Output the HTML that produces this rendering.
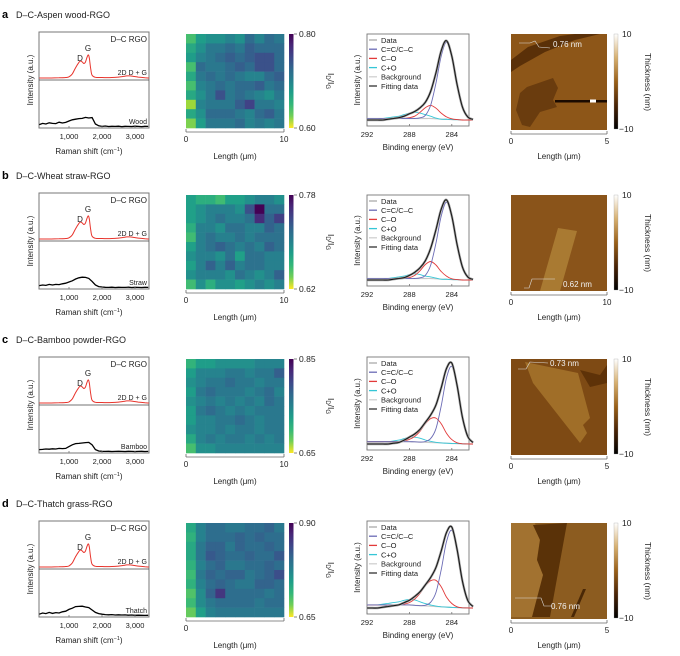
<!DOCTYPE html>
<html><head><meta charset="utf-8">
<style>
html,body{margin:0;padding:0;background:#fff;}
svg{display:block;font-family:"Liberation Sans",sans-serif;}
</style></head>
<body>
<svg id="fig" width="680" height="656" viewBox="0 0 680 656" xmlns="http://www.w3.org/2000/svg">
<defs>
<linearGradient id="vir" x1="0" y1="0" x2="0" y2="1">
<stop offset="0" stop-color="#440154"/><stop offset="0.12" stop-color="#482878"/><stop offset="0.25" stop-color="#3e4989"/><stop offset="0.37" stop-color="#31688e"/><stop offset="0.5" stop-color="#26828e"/><stop offset="0.62" stop-color="#1f9e89"/><stop offset="0.75" stop-color="#35b779"/><stop offset="0.87" stop-color="#6ece58"/><stop offset="1" stop-color="#fde725"/>
</linearGradient>
<linearGradient id="afmc" x1="0" y1="0" x2="0" y2="1">
<stop offset="0" stop-color="#ffffff"/><stop offset="0.25" stop-color="#d7b070"/><stop offset="0.5" stop-color="#9a6018"/><stop offset="0.75" stop-color="#4a2406"/><stop offset="1" stop-color="#000000"/>
</linearGradient>
</defs>
<g id="root"></g>
</svg>
<script>
// ---------- Raman data ----------
const ramanRedShift = [100,400,700,900,1000,1100,1200,1300,1350,1400,1450,1500,1550,1590,1620,1660,1700,1800,2000,2300,2500,2650,2750,2850,2950,3100,3300,3420];
const ramanRedIntensity = [0,0,0.01,0.02,0.05,0.18,0.45,0.68,0.74,0.7,0.63,0.7,0.92,1.0,0.82,0.38,0.12,0.03,0.02,0.02,0.04,0.07,0.09,0.09,0.07,0.04,0.01,0];
const ramanBlackShift = [100,200,300,400,500,600,700,800,900,1000,1100,1200,1300,1400,1500,1600,1700,1800,1900,2000,2100,2200,2300,2400,2500,2600,2700,2800,2900,3000,3100,3200,3300,3400];
const ramanBlackWood = [0.2,0.3,0.25,0.35,0.3,0.28,0.4,0.33,0.38,0.5,0.6,0.65,0.7,0.72,0.8,0.75,0.78,0.25,0.1,0.05,0.08,0.04,0.06,0.05,0.07,0.03,0.06,0.05,0.04,0.07,0.05,0.03,0.06,0.05];
const ramanBlackStraw = [0.2,0.25,0.22,0.3,0.25,0.3,0.28,0.35,0.4,0.5,0.6,0.75,0.85,0.9,0.88,0.8,0.55,0.25,0.12,0.08,0.06,0.05,0.07,0.04,0.06,0.05,0.05,0.07,0.04,0.06,0.05,0.04,0.06,0.05];
const ramanBlackBamboo = [0.2,0.22,0.25,0.23,0.27,0.25,0.3,0.28,0.3,0.45,0.6,0.7,0.72,0.75,0.78,0.8,0.6,0.2,0.08,0.06,0.05,0.06,0.04,0.05,0.06,0.05,0.04,0.06,0.05,0.04,0.05,0.06,0.04,0.05];
const ramanBlackThatch = [0.15,0.25,0.2,0.3,0.22,0.28,0.25,0.35,0.4,0.55,0.65,0.78,0.8,0.82,0.75,0.7,0.5,0.3,0.2,0.15,0.12,0.1,0.12,0.08,0.1,0.08,0.09,0.07,0.08,0.06,0.07,0.06,0.05,0.06];

// ---------- Heatmap data (10 x 10, rows top->bottom) ----------
const heatA = [
[.66,.69,.70,.70,.71,.70,.73,.71,.73,.72],
[.68,.70,.72,.72,.73,.72,.74,.73,.73,.73],
[.69,.71,.72,.73,.74,.73,.74,.75,.75,.73],
[.66,.73,.72,.72,.73,.74,.73,.75,.75,.73],
[.68,.72,.73,.72,.73,.72,.71,.71,.73,.74],
[.66,.71,.72,.73,.72,.73,.73,.74,.72,.73],
[.68,.70,.72,.75,.72,.73,.72,.71,.70,.72],
[.63,.71,.72,.72,.72,.74,.76,.72,.72,.71],
[.68,.70,.73,.73,.73,.72,.71,.73,.74,.72],
[.64,.69,.72,.72,.72,.73,.71,.72,.71,.72]];
const heatB = [
[.69,.68,.68,.67,.69,.69,.70,.71,.71,.70],
[.69,.70,.71,.71,.71,.70,.74,.78,.72,.72],
[.69,.70,.71,.72,.71,.71,.72,.76,.73,.75],
[.68,.71,.71,.70,.72,.72,.71,.71,.73,.72],
[.67,.71,.72,.71,.71,.72,.71,.72,.72,.72],
[.69,.71,.72,.73,.72,.71,.72,.71,.73,.72],
[.70,.71,.71,.70,.72,.69,.72,.72,.71,.71],
[.69,.71,.73,.71,.73,.71,.72,.72,.71,.71],
[.70,.71,.71,.71,.70,.72,.71,.70,.71,.73],
[.67,.70,.68,.70,.70,.69,.70,.71,.70,.71]];
const heatC = [
[.72,.74,.74,.75,.75,.75,.75,.76,.76,.76],
[.74,.76,.76,.76,.77,.77,.76,.77,.77,.79],
[.75,.76,.77,.77,.78,.77,.77,.76,.77,.77],
[.74,.77,.78,.77,.77,.77,.76,.77,.78,.76],
[.75,.76,.77,.76,.77,.76,.77,.76,.78,.77],
[.74,.77,.78,.77,.76,.77,.76,.77,.77,.77],
[.74,.76,.76,.77,.77,.78,.77,.76,.77,.77],
[.75,.76,.76,.77,.76,.77,.77,.76,.77,.77],
[.73,.76,.77,.76,.77,.77,.76,.77,.76,.77],
[.71,.75,.75,.76,.76,.76,.76,.76,.76,.76]];
const heatD = [
[.75,.79,.81,.81,.80,.80,.81,.81,.82,.80],
[.74,.79,.81,.81,.81,.82,.81,.82,.81,.81],
[.75,.80,.82,.82,.80,.82,.81,.81,.82,.81],
[.75,.80,.83,.82,.81,.81,.82,.81,.81,.83],
[.74,.79,.81,.82,.80,.80,.81,.81,.82,.81],
[.73,.80,.82,.81,.82,.82,.80,.81,.82,.84],
[.74,.79,.81,.82,.81,.80,.80,.82,.82,.81],
[.72,.78,.82,.86,.81,.81,.81,.81,.80,.81],
[.73,.78,.80,.81,.81,.81,.81,.80,.81,.81],
[.71,.76,.79,.80,.80,.80,.80,.80,.80,.80]];

// ---------- XPS data (binding energy 292 -> 282) ----------
const xpsEnergy = [292,291.5,291,290.5,290,289.5,289,288.5,288,287.5,287,286.5,286,285.5,285,284.5,284,283.5,283,282.5,282];
const xpsCC_A = [0,0,0,0,0,0,0,0,0,0,0.008,0.04,0.17,0.46,0.82,1,0.82,0.46,0.17,0.04,0.008];
const xpsCO_A = [0,0,0,0,0,0,0,0,0.01,0.03,0.08,0.14,0.17,0.14,0.08,0.03,0.01,0,0,0,0];
const xpsCeqO_A = [0,0,0,0,0.01,0.02,0.03,0.05,0.07,0.08,0.07,0.05,0.03,0.01,0,0,0,0,0,0,0];
const xpsBG_A = [0.02,0.02,0.02,0.02,0.02,0.02,0.02,0.02,0.02,0.02,0.02,0.02,0.02,0.015,0.01,0.01,0.005,0.005,0,0,0];
const xpsCC_B = [0,0,0,0,0,0,0,0,0,0,0.008,0.04,0.17,0.46,0.82,1,0.82,0.46,0.17,0.04,0.008];
const xpsCO_B = [0,0,0,0,0,0,0,0,0.01,0.04,0.1,0.18,0.22,0.18,0.1,0.04,0.01,0,0,0,0];
const xpsCeqO_B = [0,0,0,0,0,0.01,0.02,0.03,0.05,0.06,0.05,0.03,0.02,0.01,0,0,0,0,0,0,0];
const xpsBG_B = [0.02,0.02,0.02,0.02,0.02,0.02,0.02,0.02,0.02,0.02,0.02,0.02,0.02,0.015,0.01,0.01,0.005,0.005,0,0,0];
const xpsCC_C = [0,0,0,0,0,0,0,0,0,0,0,0.01,0.05,0.18,0.48,0.85,1,0.75,0.35,0.1,0.02];
const xpsCO_C = [0,0,0,0,0,0,0,0.01,0.03,0.07,0.14,0.24,0.31,0.32,0.25,0.13,0.05,0.01,0,0,0];
const xpsCeqO_C = [0,0,0,0,0,0.01,0.02,0.04,0.06,0.06,0.05,0.03,0.015,0.005,0,0,0,0,0,0,0];
const xpsBG_C = [0.03,0.03,0.03,0.03,0.03,0.03,0.03,0.03,0.03,0.028,0.025,0.022,0.02,0.017,0.014,0.01,0.007,0.005,0.003,0.001,0];
const xpsCC_D = [0,0,0,0,0,0,0,0,0,0,0,0.01,0.05,0.18,0.48,0.85,1,0.75,0.35,0.1,0.02];
const xpsCO_D = [0,0,0,0,0,0,0,0.01,0.03,0.08,0.16,0.26,0.33,0.34,0.26,0.13,0.05,0.01,0,0,0];
const xpsCeqO_D = [0,0,0,0.01,0.02,0.03,0.04,0.06,0.07,0.07,0.05,0.03,0.015,0.005,0,0,0,0,0,0,0];
const xpsBG_D = [0.04,0.04,0.04,0.04,0.04,0.04,0.04,0.04,0.04,0.035,0.03,0.027,0.024,0.02,0.016,0.012,0.008,0.005,0.003,0.001,0];

const NS = "http://www.w3.org/2000/svg";
const root = document.getElementById('root');
function el(tag, attrs, parent, text){
  const e = document.createElementNS(NS, tag);
  for (const k in attrs) e.setAttribute(k, attrs[k]);
  if (text !== undefined) e.textContent = text;
  (parent || root).appendChild(e);
  return e;
}
function smooth(pts){
  let d = 'M' + pts[0][0].toFixed(1) + ' ' + pts[0][1].toFixed(1);
  for (let i = 0; i < pts.length - 1; i++){
    const p0 = pts[Math.max(0,i-1)], p1 = pts[i], p2 = pts[i+1], p3 = pts[Math.min(pts.length-1,i+2)];
    const c1x = p1[0] + (p2[0]-p0[0])/6, c1y = p1[1] + (p2[1]-p0[1])/6;
    const c2x = p2[0] - (p3[0]-p1[0])/6, c2y = p2[1] - (p3[1]-p1[1])/6;
    d += ' C' + c1x.toFixed(1)+' '+c1y.toFixed(1)+' '+c2x.toFixed(1)+' '+c2y.toFixed(1)+' '+p2[0].toFixed(1)+' '+p2[1].toFixed(1);
  }
  return d;
}
function poly(pts){ return 'M' + pts.map(p => p[0].toFixed(1)+' '+p[1].toFixed(1)).join(' L'); }
const VIR = ['#fde725','#b5de2b','#6ece58','#35b779','#1f9e89','#26828e','#31688e','#3e4989','#482878','#440154'];
function hex(c){ return [parseInt(c.slice(1,3),16),parseInt(c.slice(3,5),16),parseInt(c.slice(5,7),16)]; }
function viridis(t){
  t = Math.max(0, Math.min(1, t));
  const f = t * (VIR.length - 1), i = Math.min(VIR.length - 2, Math.floor(f)), r = f - i;
  const a = hex(VIR[i]), b = hex(VIR[i+1]);
  return 'rgb(' + a.map((v,k) => Math.round(v + (b[k]-v)*r)).join(',') + ')';
}

const rows = [
  {dy:0, letter:'a', title:'D–C-Aspen wood-RGO', src:'Wood', black:ramanBlackWood, heat:heatA, hmin:0.60, hmax:0.80, hlab:['0.80','0.60'], cc:xpsCC_A, co:xpsCO_A, ceqo:xpsCeqO_A, bg:xpsBG_A, afmMax:'5', nm:'0.76 nm', heatAxis10:true},
  {dy:161, letter:'b', title:'D–C-Wheat straw-RGO', src:'Straw', black:ramanBlackStraw, heat:heatB, hmin:0.62, hmax:0.78, hlab:['0.78','0.62'], cc:xpsCC_B, co:xpsCO_B, ceqo:xpsCeqO_B, bg:xpsBG_B, afmMax:'10', nm:'0.62 nm', heatAxis10:true},
  {dy:325, letter:'c', title:'D–C-Bamboo powder-RGO', src:'Bamboo', black:ramanBlackBamboo, heat:heatC, hmin:0.65, hmax:0.85, hlab:['0.85','0.65'], cc:xpsCC_C, co:xpsCO_C, ceqo:xpsCeqO_C, bg:xpsBG_C, afmMax:'5', nm:'0.73 nm', heatAxis10:true},
  {dy:489, letter:'d', title:'D–C-Thatch grass-RGO', src:'Thatch', black:ramanBlackThatch, heat:heatD, hmin:0.65, hmax:0.90, hlab:['0.90','0.65'], cc:xpsCC_D, co:xpsCO_D, ceqo:xpsCeqO_D, bg:xpsBG_D, afmMax:'5', nm:'0.76 nm', heatAxis10:false}
];

rows.forEach((R, ri) => {
  const dy = R.dy;
  const g = el('g', {});
  
  
  const t1 = el('text', {x:2, y:18+dy, 'font-size':11, 'font-weight':'bold', fill:'#000'}, g, R.letter);
  
  
  const t2 = el('text', {x:16, y:18+dy, 'font-size':9, fill:'#222'}, g, R.title);
  
  

  // ---- Raman ----
  const rg = el('g', {}, g);
  
  
  const rx = wn => 36 + wn * 0.033;
  const ryRed = v => 78 + dy - v * 23;
  const ryBlk = v => 127 + dy - v * 12;
  el('rect', {x:39, y:32+dy, width:110, height:96, fill:'none', stroke:'#777', 'stroke-width':1}, rg);
  el('line', {x1:39, y1:80+dy, x2:149, y2:80+dy, stroke:'#444', 'stroke-width':0.8}, rg);
  const red = el('path', {d:smooth(ramanRedShift.map((w,i)=>[rx(w), ryRed(ramanRedIntensity[i])])), fill:'none', stroke:'#e8342c', 'stroke-width':1}, rg);
  
  
  const blk = el('path', {d:poly(ramanBlackShift.map((w,i)=>[rx(w), ryBlk(R.black[i])])), fill:'none', stroke:'#000', 'stroke-width':1.3}, rg);
  
  
  el('text', {x:147, y:42+dy, 'font-size':8, 'text-anchor':'end', fill:'#222'}, rg, 'D–C RGO');
  el('text', {x:80, y:61+dy, 'font-size':8, 'text-anchor':'middle', fill:'#222'}, rg, 'D');
  el('text', {x:88, y:51+dy, 'font-size':8, 'text-anchor':'middle', fill:'#222'}, rg, 'G');
  el('text', {x:147, y:75+dy, 'font-size':7, 'text-anchor':'end', fill:'#222'}, rg, '2D D + G');
  el('text', {x:147, y:124+dy, 'font-size':7, 'text-anchor':'end', fill:'#222'}, rg, R.src);
  [1000,2000,3000].forEach(v => {
    el('line', {x1:rx(v), y1:128+dy, x2:rx(v), y2:126+dy, stroke:'#777', 'stroke-width':0.8}, rg);
    el('text', {x:rx(v), y:139+dy, 'font-size':7.5, 'text-anchor':'middle', fill:'#222'}, rg, v.toLocaleString('en-US'));
  });
  const rxl = el('text', {x:89, y:154+dy, 'font-size':8, 'text-anchor':'middle', fill:'#222'}, rg);
  
  
  rxl.textContent = 'Raman shift (cm';
  el('tspan', {dy:-3, 'font-size':5.5}, rxl, '−1');
  el('tspan', {dy:3}, rxl, ')');
  el('text', {x:0, y:0, 'font-size':8, 'text-anchor':'middle', fill:'#222', transform:'translate(33,'+(80+dy)+') rotate(-90)'}, rg, 'Intensity (a.u.)');

  // ---- Heatmap ----
  const hg = el('g', {}, g);
  
  
  const hx0 = 186, hy0 = 34 + dy, hw = 98, hh = 94;
  const cw = hw / 10, ch = hh / 10;
  R.heat.forEach((row, r) => row.forEach((v, c) => {
    const cell = el('rect', {x:(hx0 + c*cw).toFixed(2), y:(hy0 + r*ch).toFixed(2), width:(cw+0.3).toFixed(2), height:(ch+0.3).toFixed(2), fill:viridis((v - R.hmin)/(R.hmax - R.hmin))}, hg);
    
    
  }));
  el('line', {x1:hx0, y1:hy0+hh+4, x2:hx0+hw, y2:hy0+hh+4, stroke:'#666', 'stroke-width':0.8}, hg);
  el('line', {x1:hx0, y1:hy0+hh+4, x2:hx0, y2:hy0+hh+1, stroke:'#666', 'stroke-width':0.8}, hg);
  el('line', {x1:hx0+hw, y1:hy0+hh+4, x2:hx0+hw, y2:hy0+hh+1, stroke:'#666', 'stroke-width':0.8}, hg);
  el('text', {x:hx0, y:hy0+hh+14, 'font-size':8, 'text-anchor':'middle', fill:'#222'}, hg, '0');
  if (R.heatAxis10) el('text', {x:hx0+hw, y:hy0+hh+14, 'font-size':8, 'text-anchor':'middle', fill:'#222'}, hg, '10');
  const hl = el('text', {x:235, y:159+dy, 'font-size':8, 'text-anchor':'middle', fill:'#222'}, hg, 'Length (μm)');
  
  
  const cb = el('rect', {x:289, y:hy0, width:4.5, height:hh, fill:'url(#vir)'}, hg);
  
  
  el('line', {x1:294, y1:hy0, x2:297, y2:hy0, stroke:'#666', 'stroke-width':0.8}, hg);
  el('line', {x1:294, y1:hy0+hh, x2:297, y2:hy0+hh, stroke:'#666', 'stroke-width':0.8}, hg);
  el('text', {x:299, y:hy0+3, 'font-size':8.5, fill:'#222'}, hg, R.hlab[0]);
  el('text', {x:299, y:hy0+hh+3, 'font-size':8.5, fill:'#222'}, hg, R.hlab[1]);
  const cbl = el('text', {x:0, y:0, 'font-size':8.5, 'text-anchor':'middle', fill:'#222', transform:'translate(328,'+(hy0+hh/2)+') rotate(90)'}, hg);
  cbl.textContent = 'I';
  el('tspan', {dy:2, 'font-size':6}, cbl, 'D');
  el('tspan', {dy:-2}, cbl, '/I');
  el('tspan', {dy:2, 'font-size':6}, cbl, 'G');

  // ---- XPS ----
  const xg = el('g', {}, g);
  
  
  const xy0 = (R.letter === 'c' || R.letter === 'd') ? 32 : 34;
  const xb = 126 + dy - (R.letter === 'a' ? 0 : 1);
  const ex = e => 367 + (292 - e) * 10.6;
  const ey = v => xb - 6 - v * 77;
  el('rect', {x:367, y:xy0+dy, width:102, height:xb-(xy0+dy), fill:'none', stroke:'#777', 'stroke-width':0.9}, xg);
  const fit = xpsEnergy.map((e,i) => R.cc[i] + R.co[i] + R.ceqo[i] + R.bg[i]);
  const comp = (arr, col, name, w) => {
    const p = el('path', {d:smooth(xpsEnergy.map((e,i)=>[ex(e), ey(arr[i] + R.bg[i])])), fill:'none', stroke:col, 'stroke-width':w}, xg);
    
    
  };
  comp(xpsEnergy.map(()=>0), '#c8c8c8', 'xps-background-line', 1.2);
  comp(R.ceqo, '#35c6d6', 'xps-c-eq-o-line', 0.9);
  comp(R.co, '#e23a3a', 'xps-c-o-line', 0.9);
  comp(R.cc, '#6b6bb5', 'xps-cc-line', 0.9);
  const dl = el('path', {d:smooth(xpsEnergy.map((e,i)=>[ex(e), ey(fit[i] - R.bg[i])])), fill:'none', stroke:'#aaa', 'stroke-width':2.4}, xg);
  
  
  const fl = el('path', {d:smooth(xpsEnergy.map((e,i)=>[ex(e), ey(fit[i] - R.bg[i])])), fill:'none', stroke:'#1a1a1a', 'stroke-width':1.1}, xg);
  
  
  [292,288,284].forEach(v => {
    el('line', {x1:ex(v), y1:xb, x2:ex(v), y2:xb-2, stroke:'#777', 'stroke-width':0.8}, xg);
    el('text', {x:ex(v), y:xb+11, 'font-size':7.5, 'text-anchor':'middle', fill:'#222'}, xg, String(v));
  });
  el('text', {x:418, y:xb+24, 'font-size':8, 'text-anchor':'middle', fill:'#222'}, xg, 'Binding energy (eV)');
  el('text', {x:0, y:0, 'font-size':8, 'text-anchor':'middle', fill:'#222', transform:'translate(360,'+((xy0+dy+xb)/2)+') rotate(-90)'}, xg, 'Intensity (a.u.)');
  const leg = [['Data','#aaa'],['C=C/C–C','#6b6bb5'],['C–O','#e23a3a'],['C+O','#35c6d6'],['Background','#d0d0d0'],['Fitting data','#333']];
  leg.forEach((L, i) => {
    const ly = xy0 + dy + 6 + i * 9.2;
    const lg = el('g', {}, xg);
    
    
    el('line', {x1:369, y1:ly, x2:377, y2:ly, stroke:L[1], 'stroke-width':1.3}, lg);
    el('text', {x:381, y:ly+2.8, 'font-size':7.5, fill:'#222'}, lg, L[0]);
  });

  // ---- AFM ----
  const ag = el('g', {}, g);
  
  
  const ay = 34 + dy;
  const P = pts => pts.map(p => p[0] + ',' + (p[1] + dy)).join(' ');
  if (R.letter === 'a'){
    el('rect', {x:511, y:ay, width:96, height:96, fill:'#8d5618'}, ag);
    el('polygon', {points:P([[511,60],[528,47],[560,36],[575,34],[600,34],[575,40],[545,52],[520,66],[511,72]]), fill:'#5a3008'}, ag);
    el('polygon', {points:P([[520,93],[527,87],[553,78],[558,88],[553,100],[557,107],[540,112],[530,127],[522,125],[516,110]]), fill:'#6a3c0e'}, ag);
    el('rect', {x:555, y:100+dy, width:52, height:2.5, fill:'#1a0a00'}, ag);
    el('rect', {x:590, y:99.5+dy, width:6, height:3, fill:'#fff'}, ag);
    el('polyline', {points:P([[519,43],[530,43],[535,41],[539,47],[550,48]]), fill:'none', stroke:'#ddd', 'stroke-width':0.6}, ag);
    el('text', {x:553, y:47+dy, 'font-size':8, fill:'#f2f2f2'}, ag, R.nm);
  } else if (R.letter === 'b'){
    el('rect', {x:511, y:ay, width:96, height:96, fill:'#8a541a'}, ag);
    el('polygon', {points:P([[558,67],[577,70],[560,130],[540,130]]), fill:'#a97a32'}, ag);
    el('polyline', {points:P([[524,127],[529,127],[532,118],[555,118]]), fill:'none', stroke:'#ddd', 'stroke-width':0.6}, ag);
    el('text', {x:563, y:126+dy, 'font-size':8, fill:'#f2f2f2'}, ag, R.nm);
  } else if (R.letter === 'c'){
    el('rect', {x:511, y:ay, width:96, height:96, fill:'#7e4a14'}, ag);
    el('polygon', {points:P([[525,37],[578,48],[590,93],[583,100],[587,108],[580,118],[533,58]]), fill:'#a06e28'}, ag);
    el('polygon', {points:P([[580,45],[600,50],[607,40],[607,58],[590,62]]), fill:'#5e3208'}, ag);
    el('polyline', {points:P([[518,44],[526,44],[530,37],[548,38]]), fill:'none', stroke:'#ddd', 'stroke-width':0.6}, ag);
    el('text', {x:550, y:41+dy, 'font-size':8, fill:'#f2f2f2'}, ag, R.nm);
  } else {
    el('rect', {x:511, y:ay, width:96, height:96, fill:'#8c5c20'}, ag);
    el('polygon', {points:P([[511,34],[535,34],[540,50],[537,70],[545,85],[533,128],[511,128]]), fill:'#a27230'}, ag);
    el('polygon', {points:P([[533,36],[567,34],[550,128],[532,128],[543,86],[537,71],[540,51]]), fill:'#5a3208'}, ag);
    el('polygon', {points:P([[583,100],[586,100],[574,128],[571,128]]), fill:'#4a2806'}, ag);
    el('polyline', {points:P([[515,109],[541,109],[544,117],[552,117]]), fill:'none', stroke:'#ddd', 'stroke-width':0.6}, ag);
    el('text', {x:551, y:120+dy, 'font-size':8, fill:'#f2f2f2'}, ag, R.nm);
  }
  el('line', {x1:511, y1:ay+100, x2:607, y2:ay+100, stroke:'#666', 'stroke-width':0.8}, ag);
  el('line', {x1:511, y1:ay+100, x2:511, y2:ay+97, stroke:'#666', 'stroke-width':0.8}, ag);
  el('line', {x1:607, y1:ay+100, x2:607, y2:ay+97, stroke:'#666', 'stroke-width':0.8}, ag);
  el('text', {x:511, y:ay+110, 'font-size':8, 'text-anchor':'middle', fill:'#222'}, ag, '0');
  el('text', {x:607, y:ay+110, 'font-size':8, 'text-anchor':'middle', fill:'#222'}, ag, R.afmMax);
  el('text', {x:559, y:ay+125, 'font-size':8, 'text-anchor':'middle', fill:'#222'}, ag, 'Length (μm)');
  const acb = el('rect', {x:614, y:ay, width:4, height:95, fill:'url(#afmc)', stroke:'#999', 'stroke-width':0.3}, ag);
  
  
  el('text', {x:622, y:ay+3, 'font-size':8.5, fill:'#222'}, ag, '10');
  el('text', {x:619, y:ay+98, 'font-size':8.5, fill:'#222'}, ag, '−10');
  el('text', {x:0, y:0, 'font-size':8.5, 'text-anchor':'middle', fill:'#222', transform:'translate(645,'+(ay+48)+') rotate(90)'}, ag, 'Thickness (nm)');
});
</script>
</body></html>
